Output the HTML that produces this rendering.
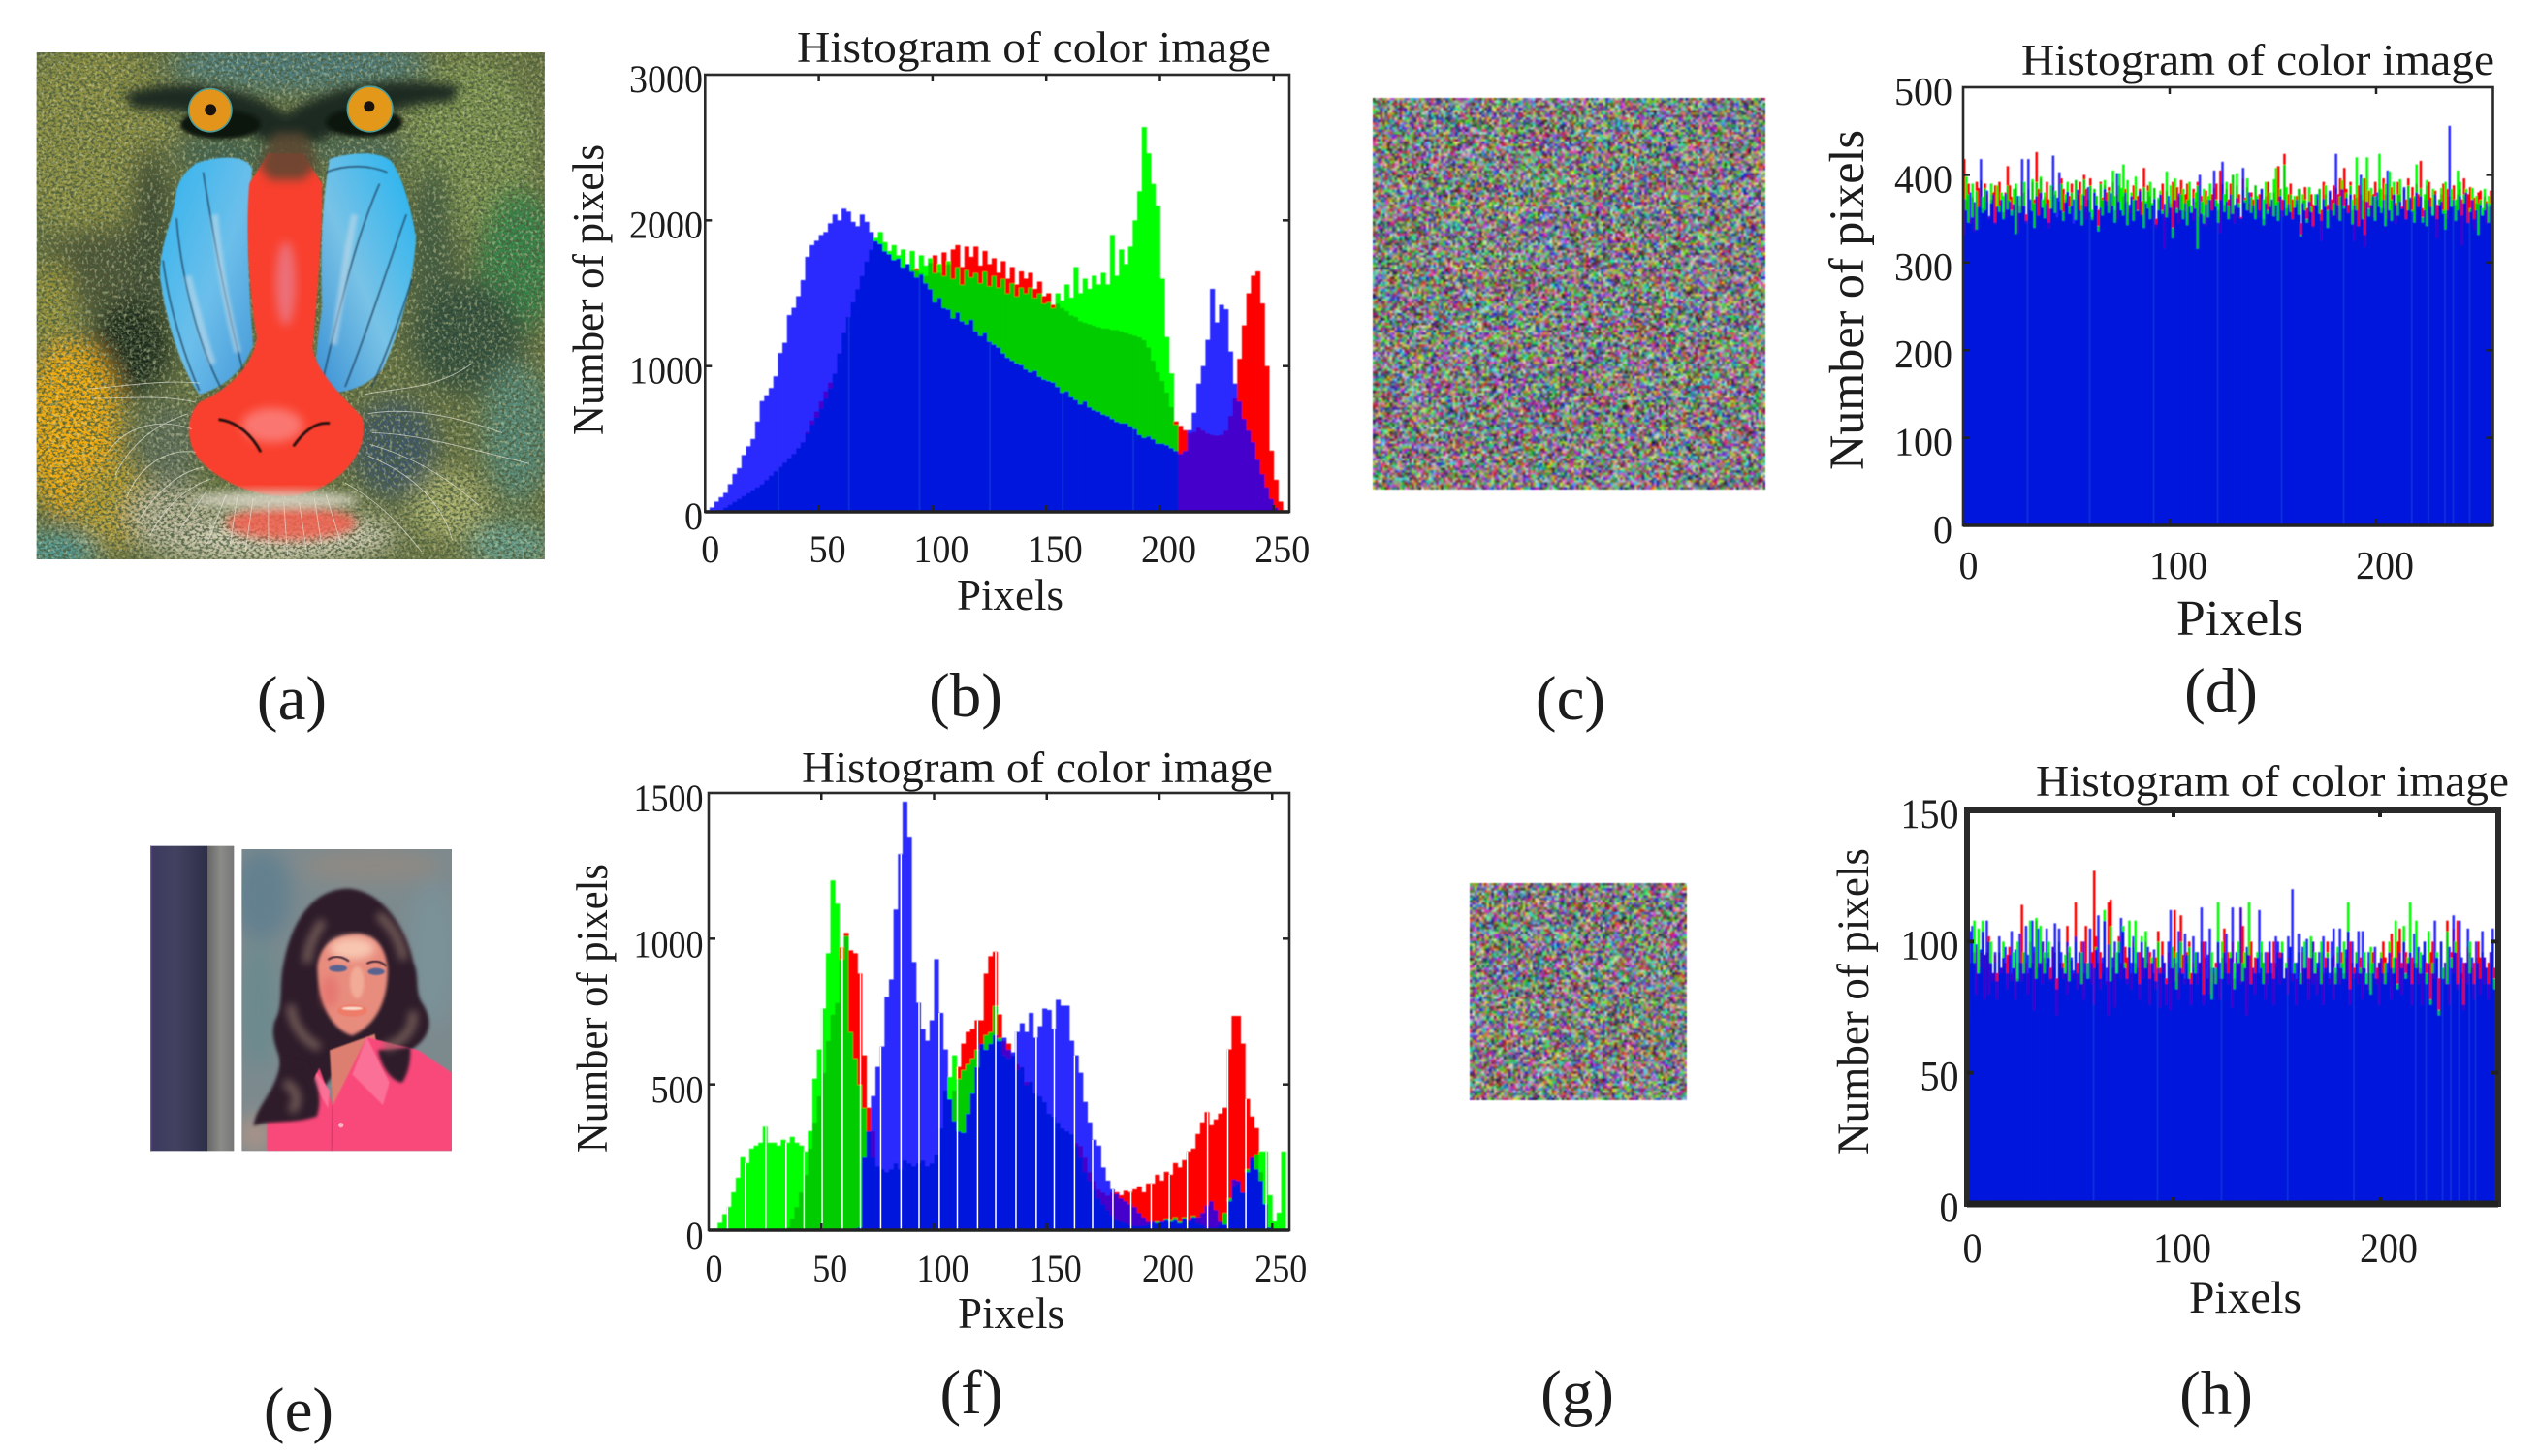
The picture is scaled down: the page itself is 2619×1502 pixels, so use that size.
<!DOCTYPE html>
<html lang="en">
<head>
<meta charset="utf-8">
<title>Color image histograms</title>
<style>
html,body{margin:0;padding:0;background:#fff;width:2619px;height:1502px;overflow:hidden}
#stage{position:absolute;left:0;top:0;width:2619px;height:1502px}
svg text{font-family:"Liberation Serif",serif;fill:#1c1c1c}
canvas{position:absolute;display:block;filter:blur(0.6px)}
</style>
</head>
<body>
<svg id="stage" xmlns="http://www.w3.org/2000/svg" width="2619" height="1502" viewBox="0 0 2619 1502">
<defs>
<filter id="b50" x="-60%" y="-60%" width="220%" height="220%"><feGaussianBlur stdDeviation="30"/></filter>
<filter id="b14" x="-30%" y="-30%" width="160%" height="160%"><feGaussianBlur stdDeviation="13"/></filter>
<filter id="b5" x="-20%" y="-20%" width="140%" height="140%"><feGaussianBlur stdDeviation="5"/></filter>
<filter id="b2" x="-20%" y="-20%" width="140%" height="140%"><feGaussianBlur stdDeviation="2.2"/></filter>
<filter id="barSoft" x="-2%" y="-2%" width="104%" height="104%"><feGaussianBlur stdDeviation="0.55"/></filter>
<filter id="furDark" x="0" y="0" width="100%" height="100%">
<feTurbulence type="fractalNoise" baseFrequency="0.11 0.15" numOctaves="2" seed="7"/>
<feColorMatrix type="matrix" values="0 0 0 0 .07  0 0 0 0 .11  0 0 0 0 .05  4.2 0 0 0 -1.75"/>
</filter>
<filter id="furLight" x="0" y="0" width="100%" height="100%">
<feTurbulence type="fractalNoise" baseFrequency="0.13 0.1" numOctaves="2" seed="23"/>
<feColorMatrix type="matrix" values="0 0 0 0 .78  0 0 0 0 .8  0 0 0 0 .45  0 4 0 0 -2.05"/>
</filter>
<linearGradient id="stripDark" x1="0" x2="1" y1="0" y2="0"><stop offset="0" stop-color="#3b3a60"/><stop offset=".45" stop-color="#424260"/><stop offset="1" stop-color="#2d2e48"/></linearGradient>
<linearGradient id="stripGray" x1="0" x2="1" y1="0" y2="0"><stop offset="0" stop-color="#666668"/><stop offset=".5" stop-color="#8b8b88"/><stop offset="1" stop-color="#777778"/></linearGradient>
<linearGradient id="cheekL" x1="0" x2="1" y1="0" y2="1"><stop offset="0" stop-color="#2fb2ee"/><stop offset=".55" stop-color="#6cbfea"/><stop offset="1" stop-color="#4598d8"/></linearGradient>
<linearGradient id="cheekR" x1="1" x2="0" y1="0" y2="1"><stop offset="0" stop-color="#1fb2f0"/><stop offset=".55" stop-color="#78c2e6"/><stop offset="1" stop-color="#3a90d4"/></linearGradient>
<clipPath id="mandrillClip"><rect x="95" y="137" width="1326" height="1323"/></clipPath>
<clipPath id="photoClip"><rect x="358" y="78" width="650" height="934"/></clipPath>
</defs>
<rect width="2619" height="1502" fill="#ffffff"/>

<!-- (a) mandrill picture -->
<svg x="37.6" y="54" width="524.4" height="523" viewBox="95 137 1326 1323">
<g clip-path="url(#mandrillClip)">
<rect x="95" y="137" width="1326" height="1323" fill="#6c7642"/>
<g filter="url(#b50)">
<ellipse cx="780" cy="170" rx="340" ry="70" fill="#4f7f82"/>
<ellipse cx="240" cy="370" rx="210" ry="260" fill="#8f9042"/>
<ellipse cx="270" cy="700" rx="160" ry="110" fill="#4e5236"/>
<ellipse cx="390" cy="650" rx="60" ry="280" fill="#3e4a33"/>
<ellipse cx="340" cy="910" rx="110" ry="130" fill="#1f2a1a"/>
<ellipse cx="135" cy="800" rx="55" ry="120" fill="#9c9538"/>
<ellipse cx="185" cy="1120" rx="125" ry="230" fill="#f2aa10"/>
<ellipse cx="300" cy="1320" rx="110" ry="110" fill="#b89c2c"/>
<ellipse cx="150" cy="1435" rx="110" ry="45" fill="#4e9ea2"/>
<ellipse cx="1230" cy="380" rx="170" ry="230" fill="#80954f"/>
<ellipse cx="1350" cy="680" rx="100" ry="190" fill="#348649"/>
<ellipse cx="1130" cy="650" rx="55" ry="240" fill="#3f5a40"/>
<ellipse cx="1220" cy="880" rx="150" ry="150" fill="#2e4c3b"/>
<ellipse cx="1350" cy="1130" rx="90" ry="180" fill="#568a7a"/>
<ellipse cx="1330" cy="1420" rx="110" ry="60" fill="#67a093"/>
<ellipse cx="1170" cy="1320" rx="100" ry="90" fill="#a9ad68"/>
<ellipse cx="700" cy="1400" rx="340" ry="70" fill="#d3cdb8"/>
<ellipse cx="1030" cy="1170" rx="110" ry="130" fill="#3c5468"/>
<ellipse cx="440" cy="1170" rx="80" ry="120" fill="#63715e"/>
<ellipse cx="440" cy="1340" rx="110" ry="70" fill="#b9b49a"/>
<ellipse cx="590" cy="400" rx="150" ry="40" fill="#3a6054"/>
<ellipse cx="930" cy="390" rx="150" ry="40" fill="#46685a"/>
</g>
<rect x="95" y="137" width="1326" height="1323" filter="url(#furDark)" opacity=".85"/>
<rect x="95" y="137" width="1326" height="1323" filter="url(#furLight)" opacity=".4"/>
<g filter="url(#b14)">
<path d="M320 245 C470 200 650 225 745 300 C850 225 1020 195 1200 225 L1180 265 C1060 270 960 300 830 370 L690 370 C600 300 470 285 350 285 Z" fill="#1a2a20"/>
</g>
<g>
<ellipse cx="575" cy="325" rx="105" ry="38" fill="#0c120f" filter="url(#b5)"/>
<ellipse cx="950" cy="320" rx="100" ry="38" fill="#0c120f" filter="url(#b5)"/>
<circle cx="548" cy="288" r="58" fill="#4e9c98"/>
<circle cx="548" cy="288" r="54" fill="#e2951a"/>
<circle cx="549" cy="287" r="15" fill="#1a120c"/>
<circle cx="965" cy="285" r="61" fill="#4e9c98"/>
<circle cx="965" cy="285" r="57" fill="#e4981a"/>
<circle cx="963" cy="278" r="14" fill="#1a120c"/>
</g>
<g>
<path d="M515 425 C580 405 640 405 658 440 C640 600 650 780 660 900 C640 960 590 1010 520 1030 C470 960 430 830 417 720 C415 640 450 580 458 510 C462 470 490 440 515 425 Z" fill="url(#cheekL)" filter="url(#b2)"/>
<path d="M860 415 C920 395 985 395 1020 420 C1055 470 1075 560 1085 620 C1080 720 1050 850 1000 960 C960 1010 900 1030 835 1025 C815 950 830 880 840 800 C835 650 840 520 860 415 Z" fill="url(#cheekR)" filter="url(#b2)"/>
<g fill="none" stroke="#1f3c58" stroke-width="4" opacity=".8" filter="url(#b2)">
<path d="M530 450 C560 640 600 850 640 990"/><path d="M460 570 C470 700 510 890 580 1020"/><path d="M425 680 C440 800 480 930 520 1020"/>
<path d="M990 480 C920 640 880 830 840 1000"/><path d="M1060 560 C1010 700 960 860 900 1010"/><path d="M1075 730 C1040 840 1010 920 970 1010"/><path d="M850 450 C900 430 960 430 1010 450"/>
</g>
<g fill="none" stroke="#c7dbe8" stroke-width="18" opacity=".55" filter="url(#b5)">
<path d="M560 560 C570 680 590 800 620 920"/><path d="M925 560 C900 680 890 780 870 900"/><path d="M490 720 C510 800 530 880 555 950"/>
</g>
</g>
<g>
<path d="M700 400 L790 400 L840 480 C840 620 825 800 815 910 C830 980 900 1040 945 1090 C965 1170 900 1260 790 1290 C700 1310 590 1270 530 1210 C485 1170 480 1090 520 1050 C590 1020 660 960 670 880 C650 770 640 600 650 480 Z" fill="#f93f2e" filter="url(#b2)"/>
<path d="M715 345 L795 345 L830 430 L790 470 L705 470 L675 430 Z" fill="#5a4632" filter="url(#b14)" opacity=".85"/>
<ellipse cx="745" cy="740" rx="26" ry="110" fill="#e58aa0" opacity=".65" filter="url(#b14)"/>
<ellipse cx="710" cy="1110" rx="80" ry="45" fill="#fb8a88" opacity=".75" filter="url(#b14)"/>
<path d="M570 1095 C620 1100 660 1140 680 1180" stroke="#20110f" stroke-width="7" fill="none" filter="url(#b2)"/>
<path d="M860 1105 C820 1100 790 1130 765 1165" stroke="#20110f" stroke-width="7" fill="none" filter="url(#b2)"/>
</g>
<g>
<ellipse cx="760" cy="1365" rx="170" ry="44" fill="#f2604f" opacity=".85" filter="url(#b14)"/>
<ellipse cx="720" cy="1305" rx="220" ry="24" fill="#dcd8c8" opacity=".85" filter="url(#b14)"/>
</g>
<g fill="none" stroke="#e6e6dc" stroke-width="2.4" opacity=".65">
<path d="M520 1000 C420 990 310 1010 230 1015"/><path d="M510 1050 C420 1030 340 1040 240 1040"/><path d="M500 1120 C420 1090 330 1110 280 1180"/><path d="M510 1180 C430 1170 360 1220 330 1300"/><path d="M550 1250 C490 1270 430 1320 390 1400"/><path d="M490 1080 C400 1110 340 1160 300 1240"/><path d="M530 1220 C470 1230 410 1280 360 1360"/>
<path d="M950 1030 C1040 1010 1130 1020 1230 950"/><path d="M960 1080 C1070 1060 1200 1090 1310 1130"/><path d="M970 1130 C1080 1130 1220 1170 1380 1210"/><path d="M960 1190 C1060 1230 1150 1300 1180 1410"/><path d="M900 1260 C970 1300 1020 1340 1100 1440"/><path d="M965 1160 C1070 1190 1160 1240 1250 1320"/>
<path d="M620 1290 L600 1420"/><path d="M700 1310 L700 1430"/><path d="M780 1310 L800 1440"/><path d="M850 1290 L890 1420"/><path d="M540 1280 L470 1380"/><path d="M660 1300 L640 1440"/><path d="M740 1310 L750 1450"/><path d="M820 1300 L840 1430"/><path d="M590 1290 L540 1420"/>
</g>
</g>
</svg>

<!-- (e) portrait picture -->
<svg x="130" y="850" width="360" height="360" viewBox="0 0 1080 1080">
<rect x="75" y="68" width="178" height="944" fill="url(#stripDark)"/>
<rect x="252" y="68" width="82" height="944" fill="url(#stripGray)"/>
<rect x="75" y="68" width="4" height="944" fill="#8d4aa6"/>
<g clip-path="url(#photoClip)">
<rect x="358" y="78" width="650" height="934" fill="#7c8a8e"/>
<g filter="url(#b50)">
<ellipse cx="420" cy="220" rx="90" ry="140" fill="#64808f"/>
<ellipse cx="760" cy="130" rx="220" ry="55" fill="#8d8984"/>
<ellipse cx="950" cy="400" rx="80" ry="220" fill="#7a9298"/>
<ellipse cx="410" cy="560" rx="60" ry="200" fill="#6c8a8e"/>
<ellipse cx="400" cy="960" rx="60" ry="60" fill="#a79388"/>
</g>
<path d="M690 200 C590 200 520 280 490 420 C470 500 490 560 460 610 C440 680 490 720 480 780 L560 880 L640 780 L760 680 L830 800 C870 780 860 740 880 700 C945 660 950 610 920 560 C890 520 910 470 890 430 C870 330 800 210 690 200 Z" fill="#2f1c2c" filter="url(#b5)"/>
<path d="M630 700 L770 650 L790 780 L680 900 L640 880 Z" fill="#dd7f70" filter="url(#b2)"/>
<path d="M436 1012 L436 895 C500 880 560 840 598 755 L640 870 L745 660 L905 700 L1008 770 L1008 1012 Z" fill="#f94a7a" filter="url(#b2)"/>
<path d="M745 660 L815 800 L795 870 L700 775 Z" fill="#fb6f96" filter="url(#b2)"/>
<path d="M590 770 L630 825 L625 880 L580 800 Z" fill="#fb6f96" filter="url(#b2)"/>
<line x1="640" y1="870" x2="636" y2="1012" stroke="#c43060" stroke-width="4" filter="url(#b2)"/>
<circle cx="665" cy="932" r="8" fill="#f6b6c6"/>
<path d="M480 720 C470 830 400 870 395 935 C440 915 520 930 590 905 C610 850 590 790 560 740 Z" fill="#2f1c2c" filter="url(#b5)"/>
<path d="M780 700 C790 760 830 800 855 800 C880 760 880 720 880 690 Z" fill="#2f1c2c" filter="url(#b5)"/>
<g fill="none" stroke="#806860" stroke-width="26" opacity=".85" filter="url(#b14)">
<path d="M510 560 C510 620 560 680 600 690"/><path d="M800 690 C860 680 900 620 885 580"/><path d="M490 800 C530 820 540 860 510 890"/><path d="M610 300 C580 340 560 390 560 430"/><path d="M780 280 C830 320 850 370 860 420"/>
</g>
<path d="M592 440 C600 370 650 340 720 340 C780 345 805 390 810 450 C810 540 780 620 700 655 C640 640 592 560 592 440 Z" fill="#e88c7e" filter="url(#b5)"/>
<ellipse cx="700" cy="385" rx="70" ry="34" fill="#f8c6b0" filter="url(#b14)"/>
<ellipse cx="630" cy="520" rx="26" ry="50" fill="#e56f6a" opacity=".7" filter="url(#b14)"/>
<ellipse cx="715" cy="490" rx="22" ry="50" fill="#f2ab96" filter="url(#b5)"/>
<path d="M625 420 C645 405 670 410 690 425" stroke="#3a2030" stroke-width="6" fill="none" filter="url(#b2)"/>
<path d="M745 432 C770 420 790 425 805 440" stroke="#3a2030" stroke-width="6" fill="none" filter="url(#b2)"/>
<ellipse cx="656" cy="447" rx="28" ry="11" fill="#5a6390" filter="url(#b2)"/>
<ellipse cx="774" cy="457" rx="26" ry="11" fill="#5a6390" filter="url(#b2)"/>
<ellipse cx="700" cy="578" rx="46" ry="18" fill="#ee7c68" filter="url(#b2)"/>
<ellipse cx="700" cy="571" rx="32" ry="5" fill="#f9ddcd" filter="url(#b2)"/>
</g>
</svg>

<g id="panel-b"></g>
<g id="panel-d"></g>
<g id="panel-f"></g>
<g id="panel-h"></g>

<text x="822" y="64" font-size="45" textLength="489" lengthAdjust="spacingAndGlyphs">Histogram of color image</text>
<text x="2085" y="77" font-size="45" textLength="488" lengthAdjust="spacingAndGlyphs">Histogram of color image</text>
<text x="827" y="807" font-size="45" textLength="486" lengthAdjust="spacingAndGlyphs">Histogram of color image</text>
<text x="2100" y="821" font-size="45" textLength="488" lengthAdjust="spacingAndGlyphs">Histogram of color image</text>

<text x="987" y="629" font-size="45" textLength="110" lengthAdjust="spacingAndGlyphs">Pixels</text>
<text x="2245" y="655" font-size="52" textLength="131" lengthAdjust="spacingAndGlyphs">Pixels</text>
<text x="988" y="1370" font-size="45" textLength="110" lengthAdjust="spacingAndGlyphs">Pixels</text>
<text x="2258" y="1354" font-size="47" textLength="116" lengthAdjust="spacingAndGlyphs">Pixels</text>

<text transform="translate(622 449) rotate(-90)" font-size="45" textLength="300" lengthAdjust="spacingAndGlyphs">Number of pixels</text>
<text transform="translate(1922 485) rotate(-90)" font-size="51" textLength="351" lengthAdjust="spacingAndGlyphs">Number of pixels</text>
<text transform="translate(626 1189) rotate(-90)" font-size="45" textLength="298" lengthAdjust="spacingAndGlyphs">Number of pixels</text>
<text transform="translate(1927 1191) rotate(-90)" font-size="47" textLength="316" lengthAdjust="spacingAndGlyphs">Number of pixels</text>

<g font-size="65" text-anchor="middle">
<text x="301" y="742">(a)</text>
<text x="996" y="739">(b)</text>
<text x="1620" y="742">(c)</text>
<text x="2291" y="734">(d)</text>
<text x="308" y="1476">(e)</text>
<text x="1002" y="1458">(f)</text>
<text x="1627" y="1458">(g)</text>
<text x="2286" y="1459">(h)</text>
</g>
</svg>

<canvas id="noise-c" width="162" height="162" style="left:1416px;top:101px;width:405px;height:404px"></canvas>
<canvas id="noise-g" width="90" height="90" style="left:1516px;top:911px;width:224px;height:224px"></canvas>

<script>
// ---- Panel (b): counts read per 2-level bin ----
const bBlue=[10,30,70,100,130,190,260,300,390,450,500,620,760,800,850,930,1090,1160,1350,1400,1480,1590,1750,1830,1860,1900,1920,1980,2040,2000,2080,2060,1990,1960,2040,1990,1920,1860,1840,1790,1770,1730,1740,1680,1700,1650,1610,1630,1570,1530,1440,1470,1400,1390,1330,1370,1310,1290,1320,1240,1210,1230,1170,1150,1130,1090,1060,1040,1020,1010,980,960,970,930,910,900,890,860,820,830,790,770,740,760,720,700,690,670,660,640,620,610,610,590,570,530,510,520,500,470,470,460,440,420,400,420,560,680,880,1000,1180,1530,1300,1420,1390,1100,880,760,640,560,480,360,260,170,90,30,5,0];
const bGreen=[0,0,5,10,30,50,70,90,110,130,150,170,190,220,250,280,310,340,370,400,440,480,540,600,650,710,780,850,950,1090,1230,1340,1440,1530,1620,1720,1800,1880,1920,1850,1790,1830,1760,1800,1700,1790,1660,1760,1690,1740,1640,1700,1620,1720,1600,1680,1560,1660,1610,1640,1570,1650,1550,1620,1540,1600,1500,1570,1480,1540,1500,1540,1470,1500,1430,1440,1400,1500,1450,1560,1470,1680,1500,1600,1530,1620,1560,1640,1560,1900,1620,1800,1700,1820,2000,2200,2640,2460,2250,2100,1600,1200,950,600,0,0,0,0,0,0,0,0,0,0,0,0,0,0,0,0,0,0,0,0,0,0,0,0];
const bRed=[0,0,0,0,5,20,40,60,80,100,120,140,170,200,230,260,290,320,350,390,430,480,550,630,690,760,830,890,950,1040,1130,1220,1300,1370,1430,1460,1490,1500,1520,1550,1570,1590,1600,1620,1640,1660,1670,1640,1620,1710,1760,1640,1780,1700,1800,1830,1680,1820,1750,1820,1690,1790,1700,1740,1640,1720,1600,1680,1560,1650,1600,1640,1530,1580,1480,1500,1420,1430,1400,1380,1350,1340,1310,1300,1290,1280,1270,1260,1260,1250,1250,1240,1230,1220,1210,1200,1180,1130,1040,960,900,820,720,620,590,560,540,550,580,560,540,530,525,530,560,660,780,1050,1280,1500,1620,1650,1430,1000,420,220,70,10];
const bXTicks=[0,50,100,150,200,250];
const bYTicks=[0,1000,2000,3000];
const bFaintLevels=[32,63,94,125,157,188];

// ---- Panel (f): counts read per 2-level bin ----
const fBlue=[0,0,0,0,0,0,0,0,0,0,0,0,0,0,0,0,0,0,0,0,0,0,0,0,0,0,0,0,0,0,0,0,5,10,250,340,460,560,630,800,860,1100,1290,1470,1350,920,780,690,650,720,930,745,620,450,375,340,335,400,470,560,640,620,640,670,650,660,620,610,680,710,680,745,660,700,760,755,690,790,770,770,650,600,540,440,370,310,290,215,170,140,125,110,100,90,80,60,45,30,30,25,30,35,30,35,25,40,35,45,45,60,85,100,70,30,20,100,175,170,130,200,250,210,170,90,10,0,0,0];
const fGreen=[0,5,25,55,80,130,180,250,230,280,290,300,355,300,300,290,310,300,320,300,290,270,340,520,620,760,950,1200,1120,930,1010,680,590,500,420,340,250,220,210,200,210,230,210,240,230,220,230,240,220,230,260,350,480,525,600,520,550,570,590,620,640,670,680,770,660,600,590,600,550,560,500,510,470,460,440,400,390,370,350,340,330,290,250,200,170,140,110,90,70,50,35,30,25,20,15,15,15,20,25,30,30,40,35,45,30,45,30,50,25,20,10,10,10,20,60,110,150,160,130,210,240,260,270,270,120,30,60,270];
const fRed=[0,0,0,0,0,0,0,0,0,0,0,0,0,0,0,0,0,10,40,80,130,190,280,370,460,540,650,740,780,970,1020,960,950,880,600,420,340,160,100,90,100,110,110,120,110,130,130,140,150,160,210,280,340,400,480,560,640,680,690,720,720,880,940,955,740,650,640,600,570,540,510,490,470,440,420,400,380,360,340,330,320,300,290,250,200,170,140,130,120,130,130,120,135,130,140,150,130,160,160,190,170,200,190,230,215,240,270,280,330,370,405,360,380,400,420,620,735,735,640,450,390,350,200,10,0,0,0,0];
const fXTicks=[0,50,100,150,200,250];
const fYTicks=[0,500,1000,1500];
const fEmptyLevels=[8,16,25,34,42,50,59,67,76,85,93,102,110,119,127,136,145,153,162,170,179,187,196,204,212,221,230,238,247];

// ---- Panel (d): counts read per level ----
const dBlue=[373,360,346,380,352,369,338,364,418,357,360,382,353,368,378,346,364,358,372,350,379,361,370,354,367,333,376,357,418,365,348,418,372,359,340,376,354,380,363,351,368,346,362,422,357,374,403,360,348,369,381,356,365,372,349,383,360,343,377,364,386,358,349,380,366,336,363,354,384,371,357,379,365,346,402,370,360,354,380,343,366,376,348,372,359,382,355,340,368,362,350,366,373,344,360,378,356,367,352,376,363,328,372,357,379,360,350,368,343,364,357,374,362,316,400,356,345,367,352,372,360,405,364,346,372,415,358,370,350,378,356,366,374,363,351,408,369,360,380,357,366,350,373,360,384,343,368,356,364,372,353,366,348,376,360,372,354,367,358,350,363,372,355,330,368,360,346,370,358,342,366,378,356,348,373,364,340,382,360,354,424,366,348,384,362,374,357,378,344,366,360,342,400,350,332,370,353,366,376,348,380,364,357,372,342,405,360,348,378,366,354,370,362,386,350,360,374,358,346,380,364,376,346,360,342,372,364,354,378,350,366,370,356,338,360,456,364,372,348,360,376,354,368,380,346,358,372,350,360,332,366,354,360,368,346,366];
const dGreen=[332,398,378,345,390,336,382,362,394,375,385,370,350,390,372,344,388,365,380,376,352,388,372,360,384,390,335,376,362,392,345,384,360,395,368,392,354,398,372,380,365,340,388,376,382,352,370,390,358,378,392,364,380,345,394,372,360,378,395,350,372,388,360,384,376,342,390,372,394,366,382,360,405,376,350,402,385,412,368,394,356,380,372,398,360,375,352,386,370,382,392,368,385,340,374,382,360,316,404,356,388,340,396,362,345,378,384,358,372,392,365,348,380,388,352,370,384,342,376,390,360,385,372,368,334,390,378,392,365,355,400,345,402,368,350,384,372,396,358,375,362,388,376,352,384,372,392,360,380,354,395,408,370,384,352,412,386,362,378,350,376,368,384,332,378,372,350,386,364,340,378,364,384,325,372,388,360,380,352,368,385,350,376,394,365,380,356,388,372,325,420,342,378,396,318,420,362,385,352,376,372,424,384,362,390,350,404,372,392,345,378,395,362,384,350,388,372,360,376,412,364,385,352,378,394,368,356,384,372,328,372,385,360,392,350,376,384,365,372,405,392,320,378,384,345,362,385,338,376,368,372,362,384,345,376,368];
const dRed=[418,372,390,350,375,368,392,385,378,362,390,378,352,372,380,388,365,392,372,358,380,410,388,375,362,385,372,365,392,380,355,378,345,392,372,426,384,396,360,375,392,372,356,386,378,352,368,396,384,372,360,376,390,344,394,378,392,366,400,384,372,396,352,384,376,360,392,374,388,380,386,370,392,360,378,388,352,376,384,370,362,372,388,354,376,384,370,408,366,388,376,362,385,350,372,378,390,360,382,370,368,392,338,386,376,394,360,378,390,372,358,384,370,392,362,376,354,382,372,365,378,370,390,360,405,378,366,384,372,390,400,362,388,378,352,396,374,386,368,380,372,388,362,378,384,350,376,392,368,372,380,366,410,384,372,424,362,378,390,372,354,376,384,345,370,386,362,338,378,366,350,372,384,360,392,378,366,380,372,388,364,378,396,372,408,384,366,392,360,378,374,388,340,372,396,345,382,364,378,392,370,384,362,396,378,390,352,386,372,368,392,378,364,384,372,396,352,386,374,390,378,416,362,372,388,392,374,352,382,366,372,378,390,356,384,372,360,388,366,378,384,372,396,360,378,386,350,374,368,380,382,344,376,370,364,382];
const dXTicks=[0,100,200];
const dYTicks=[0,100,200,300,400,500];
const dFaintLevels=[31,61,92,123,154,184,217,225,233,237,245];

// ---- Panel (h): counts read per level ----
const hBlue=[70,104,106,92,99,88,97,104,95,108,100,92,88,96,85,102,90,94,98,88,95,104,90,97,85,103,92,88,106,95,90,108,98,86,105,92,100,88,105,94,86,98,107,82,105,96,90,88,100,85,94,89,102,88,96,84,100,92,86,105,92,90,97,110,86,94,108,90,99,85,94,100,88,96,109,104,90,86,98,92,102,88,96,84,100,94,90,98,86,92,97,85,90,88,95,92,84,100,112,90,94,82,104,90,88,103,95,86,84,102,88,96,92,113,80,100,95,105,78,90,84,100,92,86,96,103,88,94,113,82,96,92,113,85,90,98,95,84,90,88,94,112,90,84,96,88,100,92,86,102,100,94,96,86,90,102,98,120,88,92,103,84,98,90,101,86,94,100,88,92,96,84,102,90,94,88,100,105,84,92,105,90,86,97,104,82,100,88,92,104,88,104,90,84,96,80,88,98,86,92,94,88,84,92,96,90,88,94,82,96,90,100,86,92,96,84,103,90,98,88,95,100,84,92,76,88,108,94,72,100,86,92,84,98,90,110,96,84,108,94,76,92,105,88,94,84,100,92,86,104,94,90,84,96,105,82];
const hGreen=[90,92,100,108,80,105,90,108,78,96,80,100,85,92,78,96,88,100,90,82,92,85,96,78,100,92,85,96,88,80,108,92,74,109,90,106,84,96,92,100,85,90,96,72,100,92,86,95,80,98,93,86,100,82,92,96,78,88,92,86,84,76,98,92,82,88,112,84,72,106,90,75,96,100,86,106,92,84,108,82,98,108,90,78,102,86,104,92,76,94,88,82,100,75,94,88,76,92,74,98,85,96,78,100,88,84,92,98,76,90,96,84,88,100,76,92,86,80,96,84,90,115,78,100,88,92,84,96,75,92,88,100,84,92,96,72,115,84,90,80,96,88,100,92,78,84,96,88,76,90,96,84,100,86,92,80,98,85,92,76,96,88,84,100,90,78,102,84,96,80,92,100,76,88,96,84,94,78,90,98,84,92,100,88,115,76,92,86,96,84,90,78,96,88,82,98,92,86,84,76,96,84,92,88,100,78,94,108,84,90,80,106,88,94,115,76,92,108,84,96,76,100,88,104,78,92,86,96,74,100,90,84,104,76,94,88,100,82,96,86,74,92,84,100,90,78,94,86,80,96,84,90,78,92,100,86];
const hRed=[96,90,100,96,98,85,96,100,95,92,102,92,88,95,88,96,90,88,92,95,98,88,85,92,86,90,114,96,92,88,100,90,96,108,92,85,100,94,88,96,90,98,94,86,96,88,92,85,106,96,90,88,115,92,96,100,88,106,92,86,96,127,102,88,96,92,100,85,115,116,90,96,88,102,92,86,98,94,90,88,100,92,86,96,90,94,100,88,96,92,88,94,104,90,100,92,86,96,90,98,112,92,88,110,95,86,96,100,88,92,96,88,92,85,100,94,86,96,90,88,92,98,86,94,105,90,96,88,100,86,94,90,113,106,88,96,92,100,85,94,90,86,96,92,88,96,90,86,100,92,88,96,92,86,90,94,96,88,92,86,94,88,96,90,86,94,92,100,88,90,92,96,88,94,100,86,92,95,88,96,90,96,88,94,92,100,86,90,96,88,94,90,86,82,92,88,96,84,90,92,88,100,94,86,92,103,90,88,100,105,92,88,96,90,86,94,84,92,96,90,88,94,92,85,96,100,88,92,86,94,90,92,108,84,96,105,92,108,96,88,92,84,98,96,88,92,86,100,94,90,94,88,92,96,94,90];
const hXTicks=[0,100,200];
const hYTicks=[0,50,100,150];
const hFaintLevels=[61,92,123,155,187,217,222,230,234,238,243,246];

const SVG_NS='http://www.w3.org/2000/svg';
function mk(tag,parent){const el=document.createElementNS(SVG_NS,tag);parent.appendChild(el);return el;}
function colourFor(hasBlue,hasGreen,hasRed){
  if(hasBlue&&hasGreen)return '#0019dd';
  if(hasBlue&&hasRed)return '#4400cc';
  if(hasBlue)return '#2a2aff';
  if(hasGreen&&hasRed)return '#00cc00';
  if(hasGreen)return '#00ff00';
  return '#ff0000';
}
function drawPanel(id,g,red,green,blue,xTicks,yTicks,faint,empty){
  const root=document.getElementById(id);
  const X=v=>g.left+v*g.perLevel;
  const Y=v=>g.bottom-v*(g.bottom-g.top)/g.yMax;
  const bars=mk('g',root);
  bars.setAttribute('filter','url(#barSoft)');
  
  
  const binLevels=256/blue.length;
  const w=binLevels*g.perLevel;
  blue.forEach((bv,i)=>{
    const gv=green[i],rv=red[i];
    const cuts=[0,bv,gv,rv].sort((a,b)=>a-b);
    for(let c=0;c<3;c++){
      const lo=cuts[c],hi=cuts[c+1];
      if(hi<=lo)continue;
      const r=mk('rect',bars);
      
      
      r.setAttribute('x',X(i*binLevels));
      r.setAttribute('width',Math.min(w+0.4,g.right-X(i*binLevels)));
      r.setAttribute('y',Y(hi));
      r.setAttribute('height',Y(lo)-Y(hi)+(lo===0?0:0.3));
      r.setAttribute('fill',colourFor(bv>lo,gv>lo,rv>lo));
    }
  });
  (faint||[]).forEach(level=>{
    const i=Math.floor(level/binLevels);
    const r=mk('rect',bars);
    
    
    r.setAttribute('x',X(level));
    r.setAttribute('width',1.2);
    r.setAttribute('y',Y(Math.min(blue[i],Math.max(green[i],red[i]))));
    r.setAttribute('height',g.bottom-Y(Math.min(blue[i],Math.max(green[i],red[i]))));
    r.setAttribute('fill','rgba(110,170,215,.22)');
  });
  (empty||[]).forEach(level=>{
    const i=Math.floor(level/binLevels);
    const top=Math.max(blue[i],green[i],red[i]);
    const r=mk('rect',root);
    
    
    r.setAttribute('x',X(level));
    r.setAttribute('width',1.5);
    r.setAttribute('y',Y(top));
    r.setAttribute('height',g.bottom-Y(top));
    r.setAttribute('fill','#ffffff');
  });
  const frame=mk('rect',root);
  
  
  frame.setAttribute('x',g.left);
  frame.setAttribute('y',g.top);
  frame.setAttribute('width',g.right-g.left);
  frame.setAttribute('height',g.bottom-g.top);
  frame.setAttribute('fill','none');
  frame.setAttribute('stroke','#2a2a2a');
  frame.setAttribute('stroke-width',g.frame);
  const base=mk('line',root);
  
  
  base.setAttribute('x1',g.left);
  base.setAttribute('x2',g.right);
  base.setAttribute('y1',g.bottom);
  base.setAttribute('y2',g.bottom);
  base.setAttribute('stroke','#222');
  base.setAttribute('stroke-width',g.frame+1);
  xTicks.forEach(v=>{
    if(v>0){
      [[g.bottom,g.bottom-g.tick],[g.top,g.top+g.tick]].forEach(p=>{
        const t=mk('line',root);
        
        
        t.setAttribute('x1',X(v));t.setAttribute('x2',X(v));
        t.setAttribute('y1',p[0]);t.setAttribute('y2',p[1]);
        t.setAttribute('stroke','#222');t.setAttribute('stroke-width',g.tickW);
      });
    }
    const l=mk('text',root);
    
    
    l.setAttribute('x',X(v)+(v===0?5.5:g.xLabelDx));
    l.setAttribute('y',g.xLabelY);
    l.setAttribute('font-size',g.fs);
    l.setAttribute('text-anchor','middle');
    l.setAttribute('textLength',String(v).length*g.digitW);
    l.setAttribute('lengthAdjust','spacingAndGlyphs');
    l.textContent=v;
  });
  yTicks.forEach(v=>{
    if(v>0&&v<g.yMax){
      [[g.left,g.left+g.tick],[g.right,g.right-g.tick]].forEach(p=>{
        const t=mk('line',root);
        
        
        t.setAttribute('x1',p[0]);t.setAttribute('x2',p[1]);
        t.setAttribute('y1',Y(v));t.setAttribute('y2',Y(v));
        t.setAttribute('stroke','#222');t.setAttribute('stroke-width',g.tickW);
      });
    }
    const l=mk('text',root);
    
    
    l.setAttribute('x',g.yLabelX);
    l.setAttribute('y',Y(v)+g.yLabelDy);
    l.setAttribute('font-size',g.fs);
    l.setAttribute('text-anchor','end');
    l.setAttribute('textLength',String(v).length*g.digitW);
    l.setAttribute('lengthAdjust','spacingAndGlyphs');
    l.textContent=v;
  });
}
drawPanel('panel-b',{left:727.3,right:1330,top:77,bottom:528,perLevel:2.346,yMax:3000,frame:2.6,tick:7,tickW:2.5,fs:40,digitW:19,xLabelDx:9,xLabelY:580,yLabelX:725,yLabelDy:18},bRed,bGreen,bBlue,bXTicks,bYTicks,bFaintLevels,null);
drawPanel('panel-d',{left:2025,right:2571.5,top:90,bottom:542,perLevel:2.13,yMax:500,frame:2.6,tick:7,tickW:2.5,fs:41,digitW:20,xLabelDx:9,xLabelY:597,yLabelX:2014,yLabelDy:18},dRed,dGreen,dBlue,dXTicks,dYTicks,dFaintLevels,null);
drawPanel('panel-f',{left:731,right:1330,top:818,bottom:1269,perLevel:2.325,yMax:1500,frame:2.6,tick:7,tickW:2.5,fs:40,digitW:18,xLabelDx:9,xLabelY:1322,yLabelX:725.5,yLabelDy:19},fRed,fGreen,fBlue,fXTicks,fYTicks,null,fEmptyLevels);
drawPanel('panel-h',{left:2029,right:2577,top:836,bottom:1242,perLevel:2.13,yMax:150,frame:6,tick:7,tickW:4,fs:43,digitW:20,xLabelDx:9,xLabelY:1302,yLabelX:2020.5,yLabelDy:18},hRed,hGreen,hBlue,hXTicks,hYTicks,hFaintLevels,null);

// Scrambled-image texture (pictures, not chart data)
function paintNoise(id,seed){
  const cv=document.getElementById(id),ctx=cv.getContext('2d');
  const img=ctx.createImageData(cv.width,cv.height);
  let s=seed;
  const next=()=>{s=(s*1664525+1013904223)>>>0;return 15+((s>>>16)&255)*0.88;};
  for(let i=0;i<img.data.length;i+=4){
    img.data[i]=next();img.data[i+1]=next();img.data[i+2]=next();img.data[i+3]=255;
  }
  ctx.putImageData(img,0,0);
}
paintNoise('noise-c',12345);
paintNoise('noise-g',98765);
</script>
</body>
</html>
